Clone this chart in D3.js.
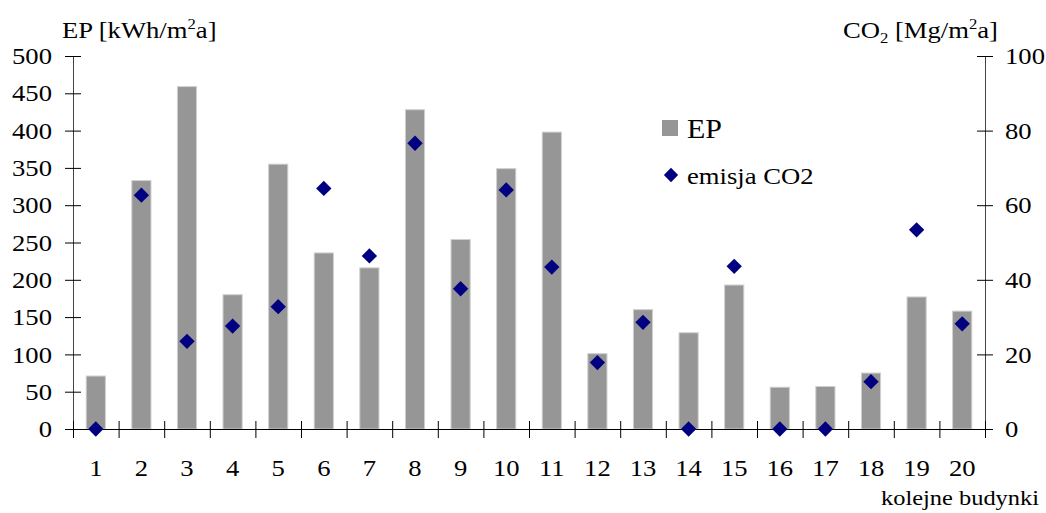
<!DOCTYPE html>
<html>
<head>
<meta charset="utf-8">
<script src="https://cdn.jsdelivr.net/npm/d3@7"></script>
<style>
  html, body { margin: 0; padding: 0; background: #fff; }
  svg { display: block; font-family: "Liberation Serif", "Times New Roman", serif; }
</style>
</head>
<body>
<svg id="chart" width="1046" height="513"></svg>
<script>
// Budynki 1–20
const buildings = ["1","2","3","4","5","6","7","8","9","10","11","12","13","14","15","16","17","18","19","20"];
// Wskaźnik EP [kWh/m2a]
const epValues = [71, 333, 459, 180, 355, 236, 216, 428, 254, 349, 398, 101, 160, 129, 193, 56, 57, 75, 177, 158];
// Emisja CO2 [Mg/m2a]
const co2Values = [0, 62.7, 23.5, 27.6, 32.8, 64.5, 46.4, 76.6, 37.6, 64.1, 43.4, 17.8, 28.6, 0, 43.6, 0, 0, 12.7, 53.4, 28.2];
const epTicks = [0, 50, 100, 150, 200, 250, 300, 350, 400, 450, 500];
const co2Ticks = [0, 20, 40, 60, 80, 100];

const svg = d3.select("#chart");
const plotLeft = 73, plotRight = 985, plotTop = 56, plotBottom = 429;
const FONT = 24;
const STRETCH = 1.11; // lekko poszerzone litery

const x = d3.scaleBand().domain(buildings).range([plotLeft, plotRight]).paddingInner(0.58).paddingOuter(0.29);
const xEdge = d3.scaleLinear().domain([0, buildings.length]).range([plotLeft, plotRight]);
const yEP = d3.scaleLinear().domain([0, 500]).range([plotBottom, plotTop]);
const yCO2 = d3.scaleLinear().domain([0, 100]).range([plotBottom, plotTop]);

// tekst poszerzony w poziomie, zaczepiony w punkcie (px, py)
function label(parent, px, py, size, anchor) {
  return parent.append("text")
    .attr("transform", `translate(${px},${py}) scale(${STRETCH},1)`)
    .attr("font-size", size)
    .attr("text-anchor", anchor || "start")
    .attr("fill", "#000");
}

// słupki EP
svg.append("g").selectAll("rect")
  .data(buildings.map((b, i) => ({ b, v: epValues[i] })))
  .join("rect")
  .attr("x", d => x(d.b))
  .attr("y", d => yEP(d.v))
  .attr("width", x.bandwidth())
  .attr("height", d => plotBottom - yEP(d.v))
  .attr("fill", "#969696")
  .attr("stroke", "#cfcfcf")
  .attr("stroke-width", 1);

// oś lewa
const axL = svg.append("g").attr("transform", `translate(${plotLeft},0)`)
  .call(d3.axisLeft(yEP).tickValues(epTicks).tickSize(8).tickSizeOuter(0).tickPadding(13));
axL.selectAll(".tick line").attr("x1", 8);

// oś prawa
const axR = svg.append("g").attr("transform", `translate(${plotRight},0)`)
  .call(d3.axisRight(yCO2).tickValues(co2Ticks).tickSize(8).tickSizeOuter(0).tickPadding(12));
axR.selectAll(".tick line").attr("x1", -8);

// oś pozioma: podziałki na granicach kategorii
const axB = svg.append("g").attr("transform", `translate(0,${plotBottom})`)
  .call(d3.axisBottom(xEdge).tickValues(d3.range(buildings.length + 1))
    .tickFormat("").tickSize(9).tickSizeOuter(0));
axB.selectAll(".tick line").attr("y1", -8);

// etykiety kategorii
const axLab = svg.append("g").attr("transform", `translate(0,${plotBottom})`)
  .call(d3.axisBottom(x).tickSize(0).tickPadding(30));
axLab.select(".domain").remove();

[axL, axR, axB, axLab].forEach(g => {
  g.attr("font-family", null);
  g.selectAll("text").each(function () {
    const t = d3.select(this);
    const tx = +t.attr("x") || 0;
    const ty = +t.attr("y") || 0;
    t.attr("x", null).attr("y", null)
      .attr("transform", `translate(${tx},${ty}) scale(${STRETCH},1)`)
      .attr("font-size", FONT)
      .attr("fill", "#000");
  });
  g.selectAll(".tick line").attr("stroke", "#000");
  g.select(".domain").attr("stroke", "#444");
});
axB.select(".domain").attr("stroke", "#000");

// punkty emisji CO2
const diamond = d3.symbol().type(d3.symbolDiamond2).size(150);
svg.append("g").selectAll("path")
  .data(buildings.map((b, i) => ({ b, v: co2Values[i] })))
  .join("path")
  .attr("d", diamond)
  .attr("transform", d => `translate(${x(d.b) + x.bandwidth() / 2},${yCO2(d.v)})`)
  .attr("fill", "#000080");

// tytuły osi
const t1 = label(svg, 62, 38, FONT);
t1.append("tspan").text("EP [kWh/m");
t1.append("tspan").attr("font-size", 15).attr("dy", -9).text("2");
t1.append("tspan").attr("dy", 9).text("a]");

const t2 = label(svg, 843, 38, FONT);
t2.append("tspan").text("CO");
t2.append("tspan").attr("font-size", 15).attr("dy", 5).text("2");
t2.append("tspan").attr("dy", -5).text(" [Mg/m");
t2.append("tspan").attr("font-size", 15).attr("dy", -9).text("2");
t2.append("tspan").attr("dy", 9).text("a]");

label(svg, 1039, 505, 22, "end").text("kolejne budynki");

// legenda
const lg = svg.append("g");
lg.append("rect").attr("x", 662).attr("y", 120).attr("width", 16).attr("height", 16).attr("fill", "#969696");
label(lg, 687, 138, 27).text("EP");
lg.append("path").attr("d", d3.symbol().type(d3.symbolDiamond2).size(130))
  .attr("transform", "translate(671,175)").attr("fill", "#000080");
label(lg, 687, 184, FONT).text("emisja CO2");
</script>
</body>
</html>
